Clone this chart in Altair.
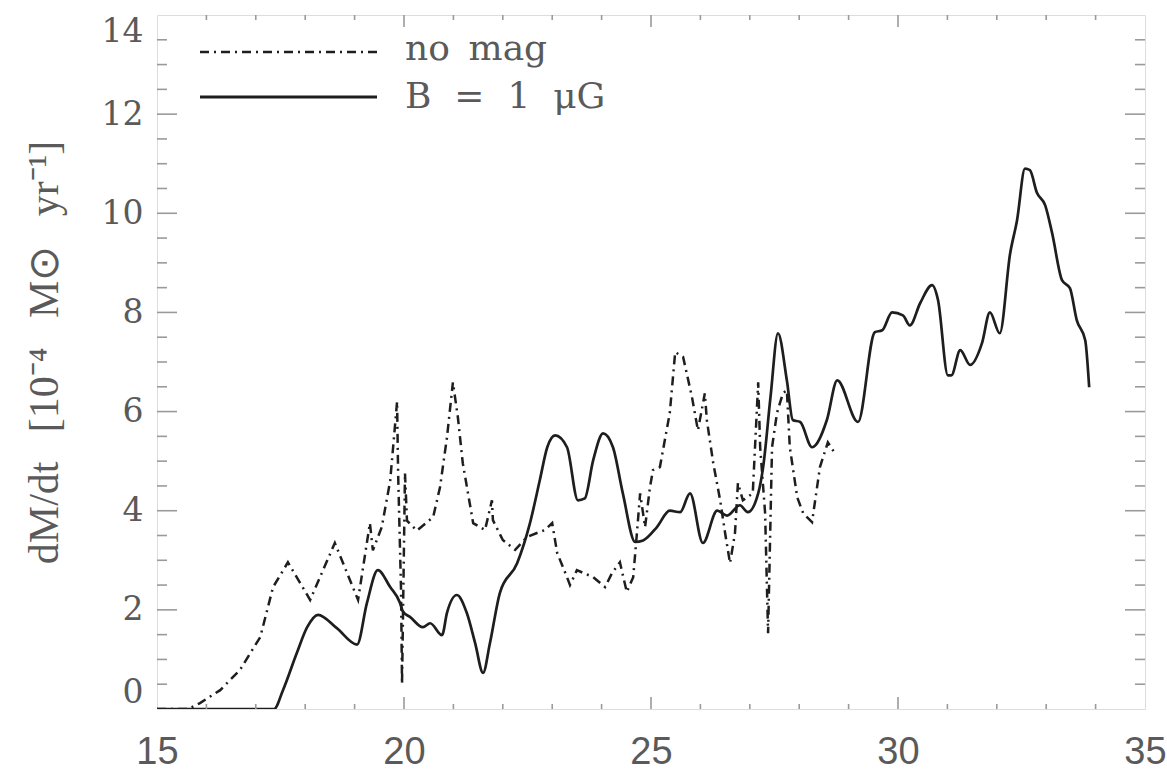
import altair as alt
import pandas as pd

# ---- data ----
bfield_x = [15.0, 17.37, 17.55, 17.83, 18.04, 18.26, 18.64, 19.05, 19.25, 19.47,
            19.72, 19.92, 19.98, 20.12, 20.38, 20.53, 20.77, 20.87, 21.07, 21.27,
            21.44, 21.6, 21.74, 21.94, 22.29, 22.55, 22.75, 22.9, 23.06, 23.3,
            23.52, 23.66, 23.83, 24.03, 24.23, 24.43, 24.68, 24.84, 25.12, 25.38,
            25.59, 25.79, 26.05, 26.34, 26.54, 26.8, 26.96, 27.17, 27.27, 27.42,
            27.57, 27.75, 27.87, 28.02, 28.26, 28.56, 28.77, 29.19, 29.53, 29.68,
            29.88, 30.1, 30.24, 30.45, 30.69, 30.81, 31.01, 31.08, 31.26, 31.46,
            31.7, 31.86, 32.06, 32.27, 32.41, 32.57, 32.67, 32.81, 32.98, 33.12,
            33.32, 33.48, 33.62, 33.79, 33.87]
bfield_y = [0, 0, 0.38, 1.13, 1.65, 1.9, 1.63, 1.3, 2.14, 2.8,
            2.46, 2.14, 1.96, 1.86, 1.65, 1.73, 1.49, 1.94, 2.3, 1.94,
            1.33, 0.73, 1.33, 2.34, 2.94, 3.75, 4.62, 5.28, 5.52, 5.28,
            4.21, 4.25, 5.02, 5.56, 5.28, 4.35, 3.37, 3.4, 3.67, 4.0,
            3.97, 4.35, 3.35, 4.0, 3.9, 4.11, 3.97, 4.35, 4.88, 6.3,
            7.58, 6.63, 5.83, 5.79, 5.28, 5.83, 6.63, 5.79, 7.6, 7.64,
            8.0, 7.94, 7.74, 8.19, 8.55, 8.25, 6.73, 6.73, 7.24, 6.94,
            7.38, 8.0, 7.58, 9.19, 9.86, 10.9, 10.87, 10.42, 10.16, 9.6,
            8.65, 8.49, 7.84, 7.44, 6.49]

nomag_x = [15.0, 15.63, 15.87, 16.28, 16.68, 17.09, 17.35, 17.65, 18.1, 18.6,
           19.07, 19.31, 19.37, 19.55, 19.72, 19.86, 19.88, 19.94, 19.96, 20.02,
           20.06, 20.26, 20.59, 20.73, 20.87, 20.99, 21.09, 21.19, 21.4, 21.64,
           21.78, 21.8, 22.0, 22.25, 22.49, 22.69, 22.85, 23.0, 23.1, 23.3,
           23.36, 23.5, 23.83, 24.07, 24.21, 24.37, 24.51, 24.64, 24.72, 24.78,
           24.88, 24.98, 25.04, 25.18, 25.38, 25.49, 25.65, 25.83, 25.95, 26.09,
           26.13, 26.26, 26.4, 26.5, 26.6, 26.7, 26.76, 26.86, 27.06, 27.17,
           27.21, 27.31, 27.37, 27.45, 27.55, 27.67, 27.75, 27.81, 27.96, 28.08,
           28.26, 28.42, 28.58, 28.72]
nomag_y = [0, 0, 0.12, 0.38, 0.79, 1.45, 2.46, 2.96, 2.2, 3.35,
           2.2, 3.75, 3.2, 3.67, 4.6, 6.2, 4.8, 2.4, 0.5, 4.76,
           3.8, 3.6, 3.87, 4.48, 5.48, 6.59, 5.89, 4.96, 3.75, 3.61,
           4.21, 3.81, 3.41, 3.21, 3.47, 3.55, 3.61, 3.75, 3.15, 2.66,
           2.5, 2.8, 2.66, 2.46, 2.74, 2.96, 2.36, 2.66, 3.61, 4.35,
           3.67, 4.48, 4.82, 4.88, 5.97, 7.2, 7.1, 6.29, 5.62, 6.37,
           5.83, 4.96, 4.21, 3.55, 2.94, 3.55, 4.56, 4.21, 4.35, 6.59,
           5.28, 3.95, 1.53, 5.28, 5.97, 6.37, 6.43, 5.28, 4.27, 3.95,
           3.77, 4.88, 5.38, 5.16]

legend_labels = ["no\u00a0\u2009mag", "B\u00a0\u00a0=\u00a0\u00a01\u00a0\u00a0\u03bcG"]
y_title = ("dM/dt\u00a0\u00a0\u2009[10\u207b\u2074\u00a0\u00a0\u2009M\u2299"
           "\u00a0\u00a0\u2009yr\u207b\u00b9]")
x_label_values = [15, 20, 25, 30, 35]
y_label_values = [0, 2, 4, 6, 8, 10, 12, 14]
x_major_ticks = [20, 25, 30]
x_minor_ticks = [16, 17, 18, 19, 21, 22, 23, 24, 26, 27, 28, 29, 31, 32, 33, 34]
y_major_ticks = [2, 4, 6, 8, 10, 12]
y_minor_ticks = [0.5, 1, 1.5, 2.5, 3, 3.5, 4.5, 5, 5.5, 6.5, 7, 7.5,
                 8.5, 9, 9.5, 10.5, 11, 11.5, 12.5, 13, 13.5]

W, H = 988, 694
LINE = "#1e1e1e"
GRAY = "#5a5a5a"
TICK = "#9a9a9a"

xscale = alt.Scale(domain=[15, 35], nice=False, zero=False)
yscale = alt.Scale(domain=[0, 14], nice=False, zero=False)

x_axis = alt.Axis(values=x_label_values, format="d", title=None, grid=False,
                  ticks=False, domain=False, labelFont="Liberation Sans",
                  labelFontSize=38, labelColor=GRAY, labelPadding=24,
                  labelFlush=False)
y_axis = alt.Axis(values=y_label_values, format="d",
                  title=y_title,
                  grid=False, ticks=False, domain=False,
                  labelFont="DejaVu Serif", labelFontSize=33,
                  labelColor=GRAY, labelPadding=14, labelFlush=True,
                  titleFont="Liberation Serif", titleFontSize=42,
                  titleFontWeight="normal", titleColor=GRAY,
                  titleX=-113, titleY=337, titleAngle=270,
                  titleAlign="center", titleBaseline="middle")

df_b = pd.DataFrame({"t": bfield_x, "m": bfield_y})
df_n = pd.DataFrame({"t": nomag_x, "m": nomag_y})

solid = alt.Chart(df_b).mark_line(color=LINE, strokeWidth=2.7, interpolate="monotone", clip=True).encode(
    x=alt.X("t:Q", scale=xscale, axis=x_axis),
    y=alt.Y("m:Q", scale=yscale, axis=y_axis),
)

dashed = alt.Chart(df_n).mark_line(color=LINE, strokeWidth=2.5, strokeDash=[9, 5, 2, 5], clip=True).encode(
    x=alt.X("t:Q", scale=xscale, axis=x_axis),
    y=alt.Y("m:Q", scale=yscale, axis=y_axis),
)


def xticks(values, length):
    d = pd.DataFrame({"t": values})
    bottom = alt.Chart(d).mark_rule(color=TICK, strokeWidth=1.6).encode(
        x=alt.X("t:Q", scale=xscale, axis=x_axis), y=alt.value(H), y2=alt.value(H - length))
    top = alt.Chart(d).mark_rule(color=TICK, strokeWidth=1.6).encode(
        x=alt.X("t:Q", scale=xscale, axis=x_axis), y=alt.value(0), y2=alt.value(length))
    return [bottom, top]


def yticks(values, length):
    d = pd.DataFrame({"m": values})
    left = alt.Chart(d).mark_rule(color=TICK, strokeWidth=1.6).encode(
        y=alt.Y("m:Q", scale=yscale, axis=y_axis), x=alt.value(0), x2=alt.value(length))
    right = alt.Chart(d).mark_rule(color=TICK, strokeWidth=1.6).encode(
        y=alt.Y("m:Q", scale=yscale, axis=y_axis), x=alt.value(W), x2=alt.value(W - length))
    return [left, right]


ticks = xticks(x_major_ticks, 12) + xticks(x_minor_ticks, 5) + \
    yticks(y_major_ticks, 20) + yticks(y_minor_ticks, 10)

leg_df0 = pd.DataFrame({"label": [legend_labels[0]]})
leg_df1 = pd.DataFrame({"label": [legend_labels[1]]})

leg_line0 = alt.Chart(leg_df0).mark_rule(color=LINE, strokeWidth=2.6, strokeDash=[9, 5, 2, 5]).encode(
    x=alt.value(43), x2=alt.value(220), y=alt.value(37))
leg_line1 = alt.Chart(leg_df1).mark_rule(color=LINE, strokeWidth=2.8).encode(
    x=alt.value(43), x2=alt.value(220), y=alt.value(82))
leg_text0 = alt.Chart(leg_df0).mark_text(align="left", baseline="middle", font="DejaVu Serif",
                                         fontSize=36, color=GRAY).encode(
    x=alt.value(248), y=alt.value(34), text="label:N")
leg_text1 = alt.Chart(leg_df1).mark_text(align="left", baseline="middle", font="DejaVu Serif",
                                         fontSize=36, color=GRAY).encode(
    x=alt.value(248), y=alt.value(82), text="label:N")

chart = alt.layer(solid, dashed, *ticks, leg_line0, leg_line1, leg_text0, leg_text1).properties(
    width=W, height=H,
    autosize=alt.AutoSizeParams(type="none"),
    padding={"left": 157, "top": 15, "right": 22, "bottom": 65},
).configure_view(stroke="#a0a0a0", strokeWidth=2.2).configure(background="white")

chart.save("out.html", embed_options={"renderer": "svg", "actions": False})
